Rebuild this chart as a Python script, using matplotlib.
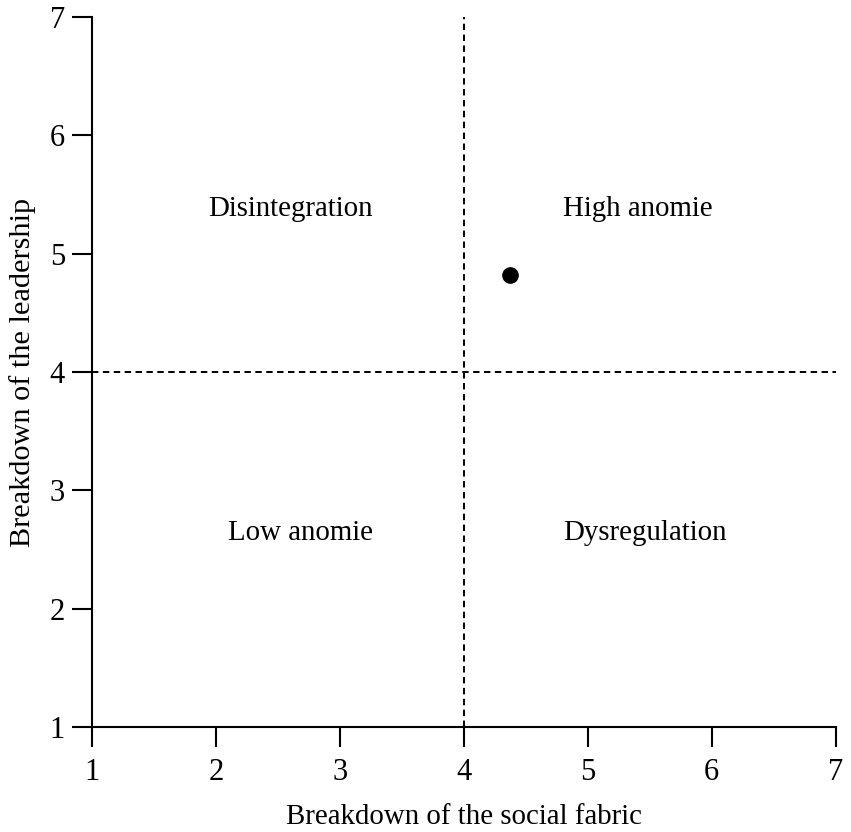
import matplotlib
matplotlib.use("Agg")
from matplotlib import pyplot as plt

plt.rcParams["font.family"] = ["Liberation Serif", "DejaVu Serif"]

# data
social_fabric = [4.37]
leadership = [4.82]
cut_x = 4
cut_y = 4
quadrant_names = ["Disintegration", "High anomie", "Low anomie", "Dysregulation"]
quadrant_x = [2.6, 5.4, 2.68, 5.46]
quadrant_y = [5.38, 5.38, 2.64, 2.64]
ticks = [1, 2, 3, 4, 5, 6, 7]

fig = plt.figure(figsize=(8.51, 8.32), dpi=100)
ax = fig.add_axes([0.108, 0.126, 0.874, 0.8536])

ax.axvline(cut_x, color="black", lw=1.4, linestyle=(0, (3.3, 2.3)))
ax.axhline(cut_y, color="black", lw=1.4, linestyle=(0, (3.3, 2.3)))
ax.plot(social_fabric, leadership, "o", color="black", markersize=11)

for name, x, y in zip(quadrant_names, quadrant_x, quadrant_y):
    ax.text(x, y, name, ha="center", va="center", fontsize=20.8)

ax.set_xlim(1, 7)
ax.set_ylim(1, 7)
ax.set_xticks(ticks)
ax.set_yticks(ticks)
ax.tick_params(direction="out", length=14.4, width=1.5, labelsize=22)
ax.tick_params(axis="x", pad=8)
ax.tick_params(axis="y", pad=5)
for side in ["top", "right"]:
    ax.spines[side].set_visible(False)
for side in ["left", "bottom"]:
    ax.spines[side].set_linewidth(1.5)

ax.set_xlabel("Breakdown of the social fabric", fontsize=20.8, labelpad=12)
ax.set_ylabel("Breakdown of the leadership", fontsize=21.8, labelpad=10)

fig.savefig("out.png", dpi=100)
